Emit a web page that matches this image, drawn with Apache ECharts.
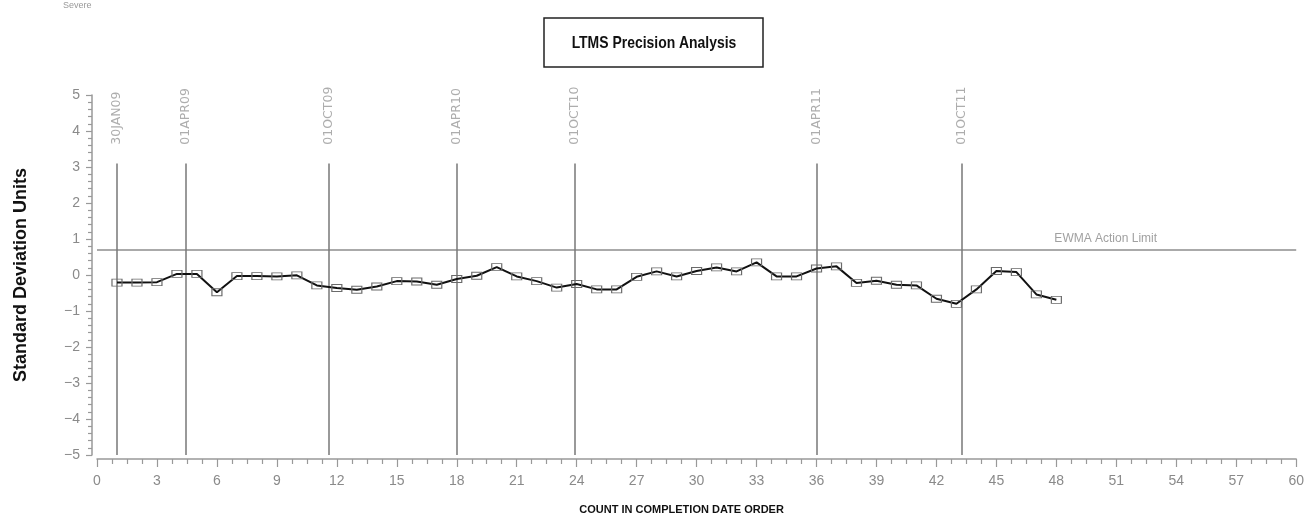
<!DOCTYPE html>
<html><head><meta charset="utf-8">
<script src="https://cdn.jsdelivr.net/npm/echarts@6.0.0/dist/echarts.min.js"></script>
<style>html,body{margin:0;padding:0;background:#fff}#c{width:1307px;height:529px}</style>
</head><body><div id="c"></div>
<script>
// ---- data ----
const counts = [1,2,3,4,5,6,7,8,9,10,11,12,13,14,15,16,17,18,19,20,21,22,23,24,25,26,27,28,29,30,31,32,33,34,35,36,37,38,39,40,41,42,43,44,45,46,47,48];
const ewmaValues = [-0.21,-0.21,-0.20,0.03,0.03,-0.48,-0.03,-0.03,-0.04,-0.01,-0.29,-0.36,-0.41,-0.32,-0.17,-0.18,-0.27,-0.11,-0.02,0.22,-0.04,-0.17,-0.35,-0.25,-0.40,-0.40,-0.05,0.10,-0.04,0.11,0.21,0.10,0.35,-0.04,-0.04,0.18,0.24,-0.22,-0.16,-0.27,-0.29,-0.66,-0.80,-0.40,0.11,0.08,-0.54,-0.69];
const eventNames = ['30JAN09','01APR09','01OCT09','01APR10','01OCT10','01APR11','01OCT11'];
const eventX = [1, 4.42, 11.58, 18.02, 23.9, 36, 43.25];
const actionLimit = 0.7;
const actionLimitLabel = 'EWMA Action Limit';

// ---- chart ----
const chart = echarts.init(document.getElementById('c'), null, {renderer:'canvas'});
const grey = '#8a8a8a';
const sans = "'Liberation Sans', Arial, sans-serif";

const vLines = eventX.map(x => [
  {coord:[x, -5]},
  {coord:[x, 3.1]}
]);

chart.setOption({
  animation:false,
  backgroundColor:'#fff',
  grid:{left:97, right:10, top:95, bottom:74, containLabel:false},
  xAxis:{
    type:'value', min:0, max:60, interval:3, offset:4,
    name:'COUNT IN COMPLETION DATE ORDER', nameLocation:'middle', nameGap:45,
    nameTextStyle:{fontFamily:sans, fontWeight:'bold', fontSize:11, color:'#111', padding:[0,30,0,0]},
    axisLine:{show:true, onZero:false, lineStyle:{color:'#999', width:1.5}},
    axisTick:{show:true, inside:false, length:8, lineStyle:{color:'#999', width:1.2}},
    minorTick:{show:true, splitNumber:4, length:5, lineStyle:{color:'#999', width:1.2}},
    axisLabel:{margin:15, fontFamily:sans, fontSize:14, color:grey},
    splitLine:{show:false}, minorSplitLine:{show:false}
  },
  yAxis:{
    type:'value', min:-5, max:5, interval:1, offset:5,
    name:'Standard Deviation Units', nameLocation:'middle', nameGap:62, nameRotate:90,
    nameTextStyle:{fontFamily:sans, fontWeight:'bold', fontSize:18, color:'#111'},
    axisLine:{show:true, onZero:false, lineStyle:{color:'#999', width:1.5}},
    axisTick:{show:true, inside:false, length:6, lineStyle:{color:'#999', width:1.2}},
    minorTick:{show:true, splitNumber:5, length:4, lineStyle:{color:'#999', width:1.2}},
    axisLabel:{margin:12, fontFamily:sans, fontSize:14, color:grey,
      formatter: v => String(v).replace('-', '\u2212')},
    splitLine:{show:false}, minorSplitLine:{show:false}
  },
  graphic:[
    {type:'text', left:63, top:1, style:{text:'Severe', fontSize:9, fill:'#999', fontFamily:sans}},
    {type:'rect', shape:{x:544, y:18, width:219, height:49}, style:{fill:'#fff', stroke:'#222', lineWidth:1.5}},
    {type:'text', x:654, y:43, scaleX:0.82, style:{text:'LTMS Precision Analysis', align:'center', verticalAlign:'middle',
      font:"bold 17px 'Liberation Sans', Arial, sans-serif", fill:'#111'}}
  ],
  series:[
    {
      type:'line',
      data: counts.map((c,i) => [c, ewmaValues[i]]),
      symbol:'rect', symbolSize:[10,7],
      itemStyle:{color:'rgba(255,255,255,0)', borderColor:'#6a6a6a', borderWidth:1},
      lineStyle:{color:'#111', width:2},
      z:5,
      markLine:{
        silent:true, symbol:['none','none'], animation:false,
        label:{show:false},
        data:[
          {yAxis:actionLimit, lineStyle:{color:'#aaa', width:2, type:'solid'}},
          ...vLines.map(p => [
            Object.assign({}, p[0], {lineStyle:{color:'#777', width:1.5, type:'solid'}}),
            p[1]
          ])
        ]
      }
    },
    {
      type:'scatter',
      data: eventX.map((x,i) => ({value:[x, 3.62], name:eventNames[i]})),
      symbolSize:0, silent:true,
      label:{show:true, formatter:'{b}', rotate:90, position:'inside', align:'left', verticalAlign:'middle',
        fontFamily:"'DejaVu Sans', sans-serif", fontSize:12.5, color:'#999'}
    },
    {
      type:'scatter',
      data:[{value:[47.9, actionLimit], name:actionLimitLabel}],
      symbolSize:0, silent:true,
      label:{show:true, formatter:'{b}', position:'inside', align:'left', verticalAlign:'bottom', offset:[0,-5],
        fontFamily:sans, fontSize:12, color:'#888'}
    }
  ]
});
</script></body></html>
